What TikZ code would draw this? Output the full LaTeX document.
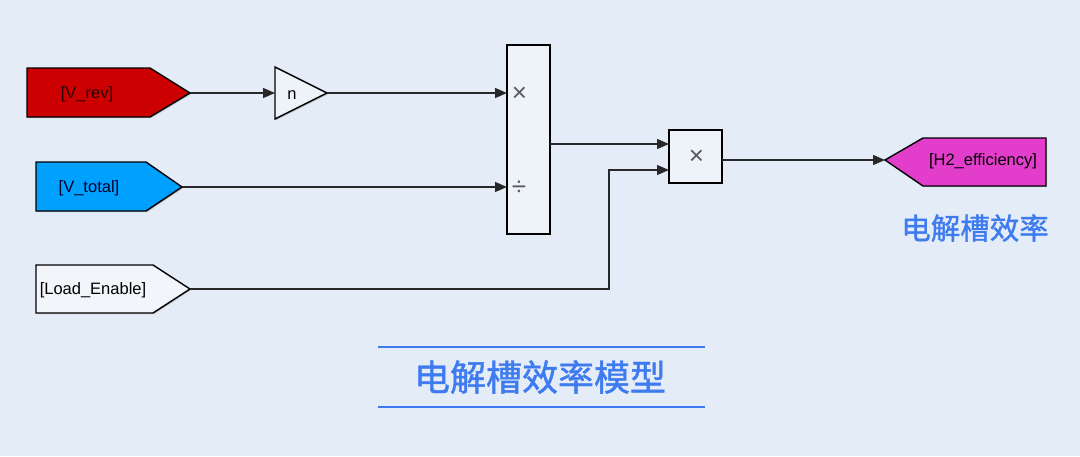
\documentclass[tikz,border=0pt]{standalone}
\usepackage{fontspec}
\setmainfont{Liberation Sans}
\newfontfamily\cjk[FakeBold=1.2]{Noto Sans CJK SC}
\usetikzlibrary{arrows.meta,shadows}
\definecolor{bg}{RGB}{228,236,248}
\definecolor{vrevc}{RGB}{204,0,0}
\definecolor{vtotc}{RGB}{0,160,255}
\definecolor{h2c}{RGB}{226,62,203}
\definecolor{loadc}{RGB}{242,245,250}
\definecolor{blockc}{RGB}{238,243,250}
\definecolor{titlec}{RGB}{62,122,240}
\definecolor{wirec}{RGB}{40,40,40}
\tikzset{
  blockshape/.style={draw=black, line width=1.4pt, drop shadow={shadow xshift=1.2pt, shadow yshift=-1.2pt, opacity=0.35}},
  blk/.style={blockshape, fill=blockc, inner sep=0pt},
  lbl/.style={font=\fontsize{16.5}{19}\selectfont, inner sep=0pt},
  sym/.style={font=\fontsize{26}{28}\selectfont, text=black!65, inner sep=0pt},
  wire/.style={draw=wirec, line width=1.2pt, -{Triangle[length=12pt,width=10pt]}},
  rule/.style={draw=titlec, line width=1.4pt},
  cjklbl/.style={font=\cjk\fontsize{29.5}{32}\selectfont, text=titlec, inner sep=0pt},
  cjktitle/.style={font=\cjk\fontsize{36}{40}\selectfont, text=titlec, inner sep=0pt}
}
\begin{document}
\begin{tikzpicture}[x=1pt,y=-1pt]
\useasboundingbox[fill=bg] (0,0) rectangle (1080,456);

% goto / from tags
\path[blockshape, fill=vrevc] (27,68) -- (150,68) -- (190,93) -- (150,117) -- (27,117) -- cycle;
\node[lbl, text=black!80!vrevc] (vrev) at (87,94) {[V\_rev]};
\coordinate (vrevout) at (190,93);

\path[blockshape, fill=vtotc] (36,162) -- (146,162) -- (182,187) -- (146,211) -- (36,211) -- cycle;
\node[lbl, text=black!85!blue] (vtot) at (89,188) {[V\_total]};
\coordinate (vtotout) at (182,187);

\path[blockshape, fill=loadc] (36,265) -- (153,265) -- (190,289) -- (153,313) -- (36,313) -- cycle;
\node[lbl] (load) at (93,290) {[Load\_Enable]};
\coordinate (loadout) at (190,289);

\path[blockshape, fill=h2c] (885,160) -- (923,138) -- (1046,138) -- (1046,186) -- (923,186) -- cycle;
\node[lbl] (h2) at (983,161) {[H2\_efficiency]};
\coordinate (h2in) at (885,160);

% gain
\path[blockshape, fill=blockc] (275,67) -- (327,93) -- (275,119) -- cycle;
\node[lbl] (gain) at (292,95) {n};
\coordinate (gainin) at (275,93);
\coordinate (gainout) at (327,93);

% product blocks
\node[blk, minimum width=43pt, minimum height=189pt] (p1) at (528.5,139.5) {};
\node[sym] (p1x) at (519.5,94) {×};
\node[sym] (p1d) at (519,188) {÷};
\coordinate (p1in1) at (507,93);
\coordinate (p1in2) at (507,187);
\coordinate (p1out) at (550,144);

\node[blk, minimum width=53pt, minimum height=53pt] (p2) at (695.5,156.5) {};
\node[sym] (p2x) at (696.5,157) {×};
\coordinate (p2in1) at (669,144);
\coordinate (p2in2) at (669,170);
\coordinate (p2out) at (722,160);
\coordinate (bend1) at (609,289);
\coordinate (bend2) at (609,170);

% wires
\draw[wire] (vrevout) -- (gainin);
\draw[wire] (gainout) -- (p1in1);
\draw[wire] (vtotout) -- (p1in2);
\draw[wire] (p1out) -- (p2in1);
\draw[wire] (loadout) -- (bend1) -- (bend2) -- (p2in2);
\draw[wire] (p2out) -- (h2in);

% captions
\node[cjklbl] (cap) at (975,228) {电解槽效率};
\coordinate (tl1) at (378,347);
\coordinate (tr1) at (705,347);
\coordinate (tl2) at (378,407);
\coordinate (tr2) at (705,407);
\draw[rule] (tl1) -- (tr1);
\draw[rule] (tl2) -- (tr2);
\node[cjktitle] (title) at (540,377) {电解槽效率模型};
\end{tikzpicture}
\end{document}
